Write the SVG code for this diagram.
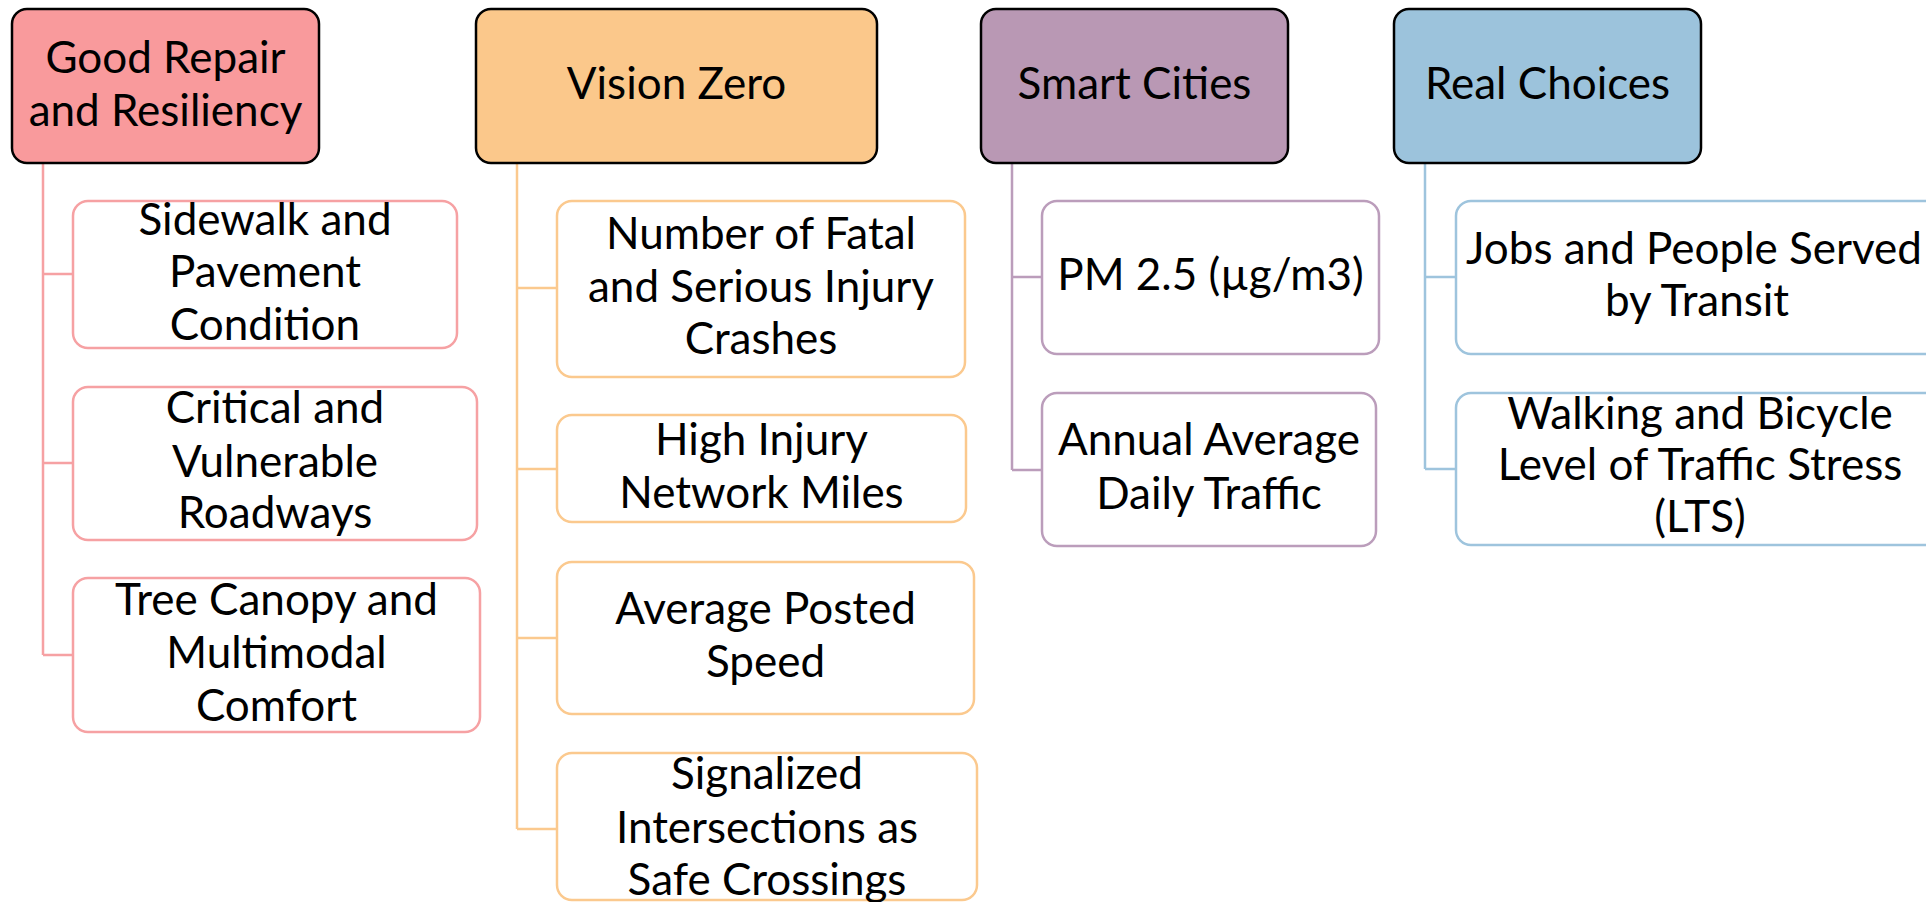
<svg xmlns="http://www.w3.org/2000/svg" width="1926" height="902" viewBox="0 0 1926 902">
<style>
text{font-family:Lato,"Open Sans","Liberation Sans",sans-serif;font-size:44px;fill:#000;text-anchor:middle}
.hdr{stroke:#000;stroke-width:2.5}
.ch{fill:#fff;stroke-width:2.5}
.c1 .hdr{fill:#F99A9C}.c1 .ch{stroke:#F6A1A3}
.c2 .hdr{fill:#FBC88B}.c2 .ch{stroke:#FBC98E}
.c3 .hdr{fill:#B998B4}.c3 .ch{stroke:#BB9DBB}
.c4 .hdr{fill:#9CC3DC}.c4 .ch{stroke:#9EC4DD}
.con path{fill:none;stroke-width:2.5}
</style>
<rect width="1926" height="902" fill="#fff"/>
<g class="con" id="connectors">
<path stroke="#F6A1A3" d="M43,163V655M43,274H73M43,463H73M43,655H73"/>
<path stroke="#FBC98E" d="M517,163V829M517,288H557M517,469H557M517,638H557M517,829H557"/>
<path stroke="#BB9DBB" d="M1012,163V470M1012,277H1042M1012,470H1042"/>
<path stroke="#9EC4DD" d="M1425,163V469M1425,277H1456M1425,469H1456"/>
</g>
<g class="c1">
<g id="good-repair"><rect class="hdr" x="12" y="9" width="307" height="154" rx="15"/><text x="165.5" y="73">Good Repair</text><text x="165.5" y="126">and Resiliency</text></g>
<g id="sidewalk"><rect class="ch" x="73" y="201" width="384" height="147" rx="15"/><text x="265" y="235">Sidewalk and</text><text x="265" y="287">Pavement</text><text x="265" y="340">Condition</text></g>
<g id="critical"><rect class="ch" x="73" y="387" width="404" height="153" rx="15"/><text x="275" y="423">Critical and</text><text x="275" y="477">Vulnerable</text><text x="275" y="528">Roadways</text></g>
<g id="tree-canopy"><rect class="ch" x="73" y="578" width="407" height="154" rx="15"/><text x="276.5" y="615">Tree Canopy and</text><text x="276.5" y="668">Multimodal</text><text x="276.5" y="721">Comfort</text></g>
</g>
<g class="c2">
<g id="vision-zero"><rect class="hdr" x="476" y="9" width="401" height="154" rx="15"/><text x="676.5" y="99">Vision Zero</text></g>
<g id="fatal-crashes"><rect class="ch" x="557" y="201" width="408" height="176" rx="15"/><text x="761" y="249">Number of Fatal</text><text x="761" y="302">and Serious Injury</text><text x="761" y="354">Crashes</text></g>
<g id="high-injury"><rect class="ch" x="557" y="415" width="409" height="107" rx="15"/><text x="761.5" y="455">High Injury</text><text x="761.5" y="508">Network Miles</text></g>
<g id="posted-speed"><rect class="ch" x="557" y="562" width="417" height="152" rx="15"/><text x="765.5" y="624">Average Posted</text><text x="765.5" y="677">Speed</text></g>
<g id="signalized"><rect class="ch" x="557" y="753" width="420" height="147" rx="15"/><text x="767" y="789">Signalized</text><text x="767" y="843">Intersections as</text><text x="767" y="895">Safe Crossings</text></g>
</g>
<g class="c3">
<g id="smart-cities"><rect class="hdr" x="981" y="9" width="307" height="154" rx="15"/><text x="1134.5" y="99">Smart Cities</text></g>
<g id="pm25"><rect class="ch" x="1042" y="201" width="337" height="153" rx="15"/><text x="1210.5" y="290">PM 2.5 (µg/m3)</text></g>
<g id="aadt"><rect class="ch" x="1042" y="393" width="334" height="153" rx="15"/><text x="1209" y="455">Annual Average</text><text x="1209" y="509">Daily Traffic</text></g>
</g>
<g class="c4">
<g id="real-choices"><rect class="hdr" x="1394" y="9" width="307" height="154" rx="15"/><text x="1547.5" y="99">Real Choices</text></g>
<g id="jobs-transit"><rect class="ch" x="1456" y="201" width="490" height="153" rx="15"/><text x="1694" y="264">Jobs and People Served</text><text x="1697" y="316">by Transit</text></g>
<g id="lts"><rect class="ch" x="1456" y="393" width="490" height="152" rx="15"/><text x="1700" y="429">Walking and Bicycle</text><text x="1700" y="480">Level of Traffic Stress</text><text x="1700" y="532">(LTS)</text></g>
</g>
</svg>
